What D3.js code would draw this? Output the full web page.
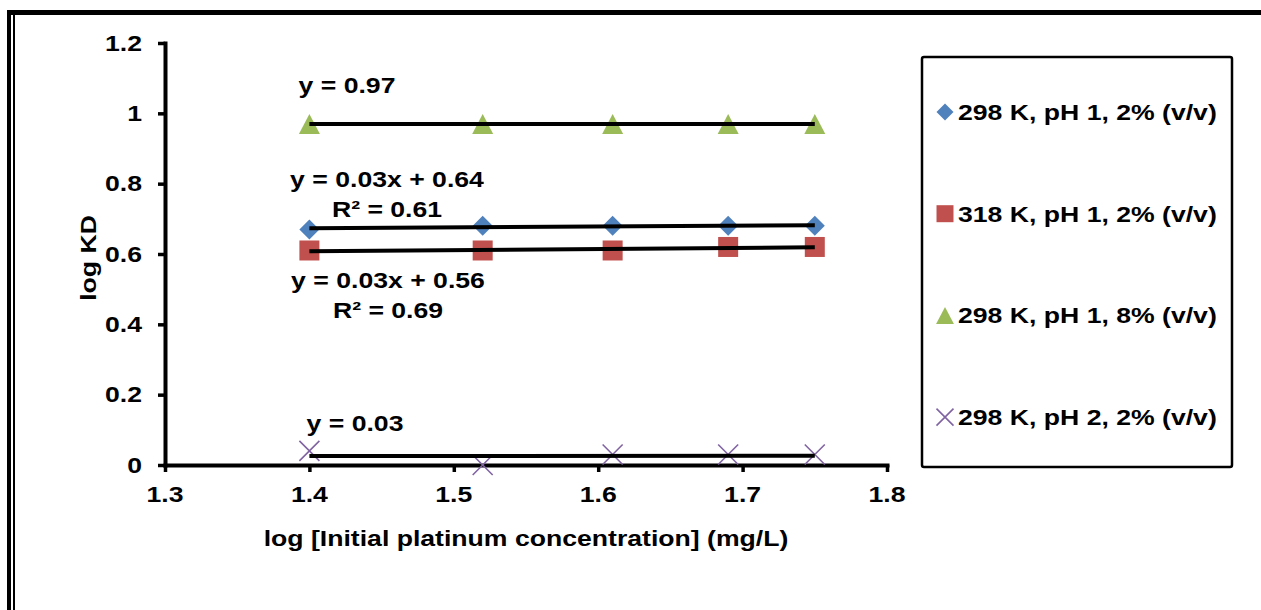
<!DOCTYPE html>
<html>
<head>
<meta charset="utf-8">
<script src="https://cdnjs.cloudflare.com/ajax/libs/d3/7.8.5/d3.min.js"></script>
<style>
  html, body { margin: 0; padding: 0; background: #fff; }
  svg text { font-family: "Liberation Sans", Arial, sans-serif; font-weight: bold; fill: #000; }
</style>
</head>
<body>
<svg id="chart" width="1261" height="610"></svg>
<script>
// ---- data ----
const xValues = [1.4, 1.52, 1.61, 1.69, 1.75];
const seriesNames = ["298 K, pH 1, 2% (v/v)", "318 K, pH 1, 2% (v/v)", "298 K, pH 1, 8% (v/v)", "298 K, pH 2, 2% (v/v)"];
const s298pH1v2 = [0.67, 0.68, 0.68, 0.68, 0.68];
const s318pH1v2 = [0.61, 0.61, 0.61, 0.62, 0.62];
const s298pH1v8 = [0.97, 0.97, 0.97, 0.97, 0.97];
const s298pH2v2 = [0.04, 0.00, 0.03, 0.03, 0.03];
const xTicks = [1.3, 1.4, 1.5, 1.6, 1.7, 1.8];
const xTickLabels = ["1.3", "1.4", "1.5", "1.6", "1.7", "1.8"];
const yTicks = [0, 0.2, 0.4, 0.6, 0.8, 1, 1.2];
const yTickLabels = ["0", "0.2", "0.4", "0.6", "0.8", "1", "1.2"];
const eqLabels = [["y = 0.03x + 0.64", "R\u00b2 = 0.61"], ["y = 0.03x + 0.56", "R\u00b2 = 0.69"], ["y = 0.97"], ["y = 0.03"]];
const xTitle = "log [Initial platinum concentration] (mg/L)";
const yTitle = "log KD";

// ---- styles ----
const colors = ["#4F81BD", "#C0504D", "#9BBB59", "#8064A2"];
const FS = 22, SX = 1.21;

const svg = d3.select("#chart");

// page frame
svg.append("line").attr("x1", 9).attr("x2", 9).attr("y1", 10).attr("y2", 610).attr("stroke", "#000").attr("stroke-width", 4);
svg.append("line").attr("x1", 14).attr("x2", 14).attr("y1", 12).attr("y2", 610).attr("stroke", "#000").attr("stroke-width", 2);
svg.append("line").attr("x1", 7).attr("x2", 1261).attr("y1", 12.5).attr("y2", 12.5).attr("stroke", "#000").attr("stroke-width", 5);

const x = d3.scaleLinear().domain([1.3, 1.8]).range([165, 887]);
const y = d3.scaleLinear().domain([0, 1.2]).range([465, 43]);

function label(parent, px, py, str, anchor, rot) {
  return parent.append("text")
    .attr("transform", `translate(${px},${py})` + (rot ? ` rotate(${rot})` : "") + ` scale(${SX},1)`)
    .attr("text-anchor", anchor || "start")
    .attr("font-size", FS)
    .text(str);
}

// axes
const gx = svg.append("g").attr("transform", `translate(0,${y(0)})`)
  .call(d3.axisBottom(x).tickValues(xTicks).tickFormat("").tickSizeInner(7).tickSizeOuter(0));
const gy = svg.append("g").attr("transform", `translate(${x(1.3)},0)`)
  .call(d3.axisLeft(y).tickValues(yTicks).tickFormat("").tickSizeInner(7).tickSizeOuter(0));
[gx, gy].forEach(g => {
  g.select(".domain").attr("stroke", "#000").attr("stroke-width", 4).attr("stroke-linecap", "square");
  g.selectAll(".tick line").attr("stroke", "#000").attr("stroke-width", 3.5);
});

xTicks.forEach((t, i) => label(svg, x(t), 502, xTickLabels[i], "middle"));
yTicks.forEach((t, i) => label(svg, 142, y(t) + 7.8, yTickLabels[i], "end"));

label(svg, 526, 546, xTitle, "middle");
label(svg, 96, 258, yTitle, "middle", -90);

// symbols
const diamond = { draw(c, s) { const r = s; c.moveTo(0, -r); c.lineTo(r, 0); c.lineTo(0, r); c.lineTo(-r, 0); c.closePath(); } };
const square = { draw(c, s) { c.rect(-s, -s, 2 * s, 2 * s); } };
const triangle = { draw(c, s) { const w = s * 1.05, h = s; c.moveTo(0, -h); c.lineTo(w, h); c.lineTo(-w, h); c.closePath(); } };
const cross = { draw(c, s) { c.moveTo(-s, -s); c.lineTo(s, s); c.moveTo(s, -s); c.lineTo(-s, s); } };
const symbolTypes = [diamond, square, triangle, cross];

const allSeries = [s298pH1v2, s318pH1v2, s298pH1v8, s298pH2v2];

function drawMarker(g, i, cx, cy, half) {
  const p = d3.symbol().type(symbolTypes[i]).size(half)();
  const el = g.append("path").attr("d", p).attr("transform", `translate(${cx},${cy})`);
  if (i === 3) el.attr("fill", "none").attr("stroke", colors[i]).attr("stroke-width", 1.6);
  else el.attr("fill", colors[i]);
}

const markerG = svg.append("g");
allSeries.forEach((vals, i) => {
  vals.forEach((v, j) => drawMarker(markerG, i, x(xValues[j]), y(v), 10));
});

// linear trendlines (least squares)
function fit(xs, ys) {
  const mx = d3.mean(xs), my = d3.mean(ys);
  let sxy = 0, sxx = 0;
  xs.forEach((xv, k) => { sxy += (xv - mx) * (ys[k] - my); sxx += (xv - mx) ** 2; });
  const b = sxy / sxx;
  return { b, a: my - b * mx };
}
const lineG = svg.append("g");
allSeries.forEach((vals, i) => {
  const f = fit(xValues, vals);
  const x0 = d3.min(xValues), x1 = d3.max(xValues);
  lineG.append("line")
    .attr("x1", x(x0)).attr("y1", y(f.a + f.b * x0))
    .attr("x2", x(x1)).attr("y2", y(f.a + f.b * x1))
    .attr("stroke", "#000").attr("stroke-width", 4);
});

// equation labels
const eqPos = [[387, 187], [388, 288], [347, 93], [355, 431]];
eqLabels.forEach((lines, i) => {
  lines.forEach((t, k) => label(svg, eqPos[i][0], eqPos[i][1] + k * 30, t, "middle"));
});

// legend
svg.append("rect").attr("x", 922).attr("y", 57).attr("width", 310).attr("height", 410)
  .attr("rx", 2).attr("fill", "#fff").attr("stroke", "#000").attr("stroke-width", 2.5);
seriesNames.forEach((name, i) => {
  const cy = 112 + i * 101.7;
  drawMarker(svg, i, 945, cy, 8.5);
  label(svg, 958, cy + 7.8, name, "start");
});
</script>
</body>
</html>
